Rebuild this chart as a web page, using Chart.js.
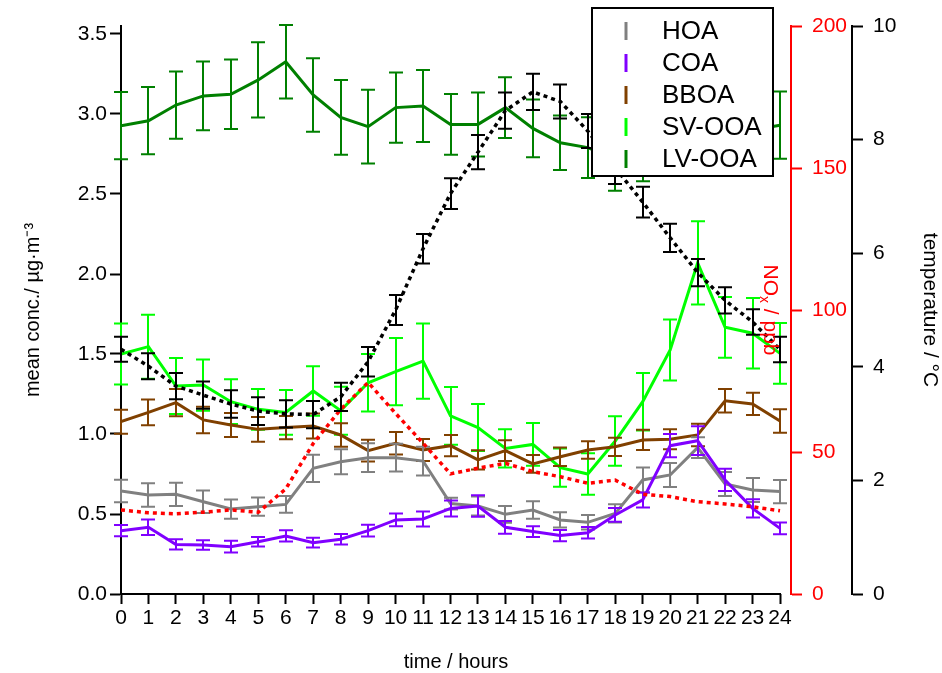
<!DOCTYPE html>
<html>
<head>
<meta charset="utf-8">
<title>Diurnal profiles</title>
<script src="https://cdn.jsdelivr.net/npm/chart.js@4.4.1/dist/chart.umd.min.js"></script>
<style>
  body { margin: 0; background: #fff; }
  #wrap { width: 942px; height: 673px; }
</style>
</head>
<body>
<div id="wrap"><canvas id="myChart" width="942" height="673"></canvas></div>
<script>
// hour of day
const HOURS = [0, 1, 2, 3, 4, 5, 6, 7, 8, 9, 10, 11, 12, 13, 14, 15, 16, 17, 18, 19, 20, 21, 22, 23, 24];

// PMF factors, mean conc. in ug/m3 and error
const HOA = [0.644, 0.619, 0.623, 0.577, 0.531, 0.546, 0.56, 0.785, 0.827, 0.852, 0.852, 0.831, 0.565, 0.55, 0.498, 0.525, 0.463, 0.448, 0.504, 0.713, 0.744, 0.915, 0.688, 0.65, 0.64];
const HOA_ERR = [0.07, 0.073, 0.073, 0.07, 0.06, 0.057, 0.052, 0.085, 0.078, 0.09, 0.087, 0.09, 0.037, 0.06, 0.052, 0.054, 0.048, 0.045, 0.057, 0.078, 0.075, 0.065, 0.075, 0.075, 0.073];

const COA = [0.396, 0.417, 0.31, 0.306, 0.296, 0.327, 0.363, 0.321, 0.342, 0.396, 0.463, 0.469, 0.535, 0.55, 0.417, 0.39, 0.365, 0.383, 0.494, 0.588, 0.927, 0.958, 0.713, 0.535, 0.41];
const COA_ERR = [0.035, 0.048, 0.032, 0.03, 0.037, 0.03, 0.035, 0.03, 0.033, 0.037, 0.04, 0.047, 0.05, 0.067, 0.04, 0.033, 0.035, 0.036, 0.043, 0.047, 0.073, 0.09, 0.07, 0.057, 0.037];

const BBOA = [1.077, 1.135, 1.196, 1.088, 1.056, 1.029, 1.04, 1.05, 0.994, 0.896, 0.942, 0.9, 0.927, 0.838, 0.896, 0.813, 0.858, 0.9, 0.92, 0.963, 0.967, 0.994, 1.208, 1.188, 1.081];
const BBOA_ERR = [0.075, 0.08, 0.085, 0.083, 0.075, 0.078, 0.073, 0.078, 0.073, 0.068, 0.07, 0.068, 0.066, 0.06, 0.065, 0.055, 0.058, 0.055, 0.057, 0.063, 0.063, 0.07, 0.073, 0.07, 0.073];

const SV_OOA = [1.5, 1.546, 1.3, 1.306, 1.202, 1.154, 1.135, 1.269, 1.146, 1.32, 1.39, 1.456, 1.113, 1.04, 0.91, 0.935, 0.79, 0.75, 0.956, 1.202, 1.525, 2.07, 1.667, 1.63, 1.504];
const SV_OOA_ERR = [0.19, 0.2, 0.175, 0.16, 0.14, 0.127, 0.14, 0.155, 0.15, 0.18, 0.21, 0.235, 0.18, 0.147, 0.12, 0.133, 0.12, 0.13, 0.155, 0.18, 0.19, 0.26, 0.19, 0.22, 0.19];

const LV_OOA = [2.927, 2.958, 3.056, 3.113, 3.123, 3.213, 3.327, 3.119, 2.979, 2.921, 3.04, 3.05, 2.935, 2.935, 3.04, 2.91, 2.82, 2.79, 2.72, 2.78, 2.85, 2.9, 2.92, 2.9, 2.93];
const LV_OOA_ERR = [0.21, 0.21, 0.21, 0.215, 0.217, 0.235, 0.23, 0.23, 0.233, 0.23, 0.22, 0.225, 0.19, 0.2, 0.19, 0.18, 0.17, 0.19, 0.2, 0.2, 0.2, 0.2, 0.2, 0.21, 0.21];

// NOx in ppb
const NOX = [29.6, 28.6, 28.2, 28.8, 29.6, 28.8, 37, 53, 65, 74.5, 63.6, 53.1, 42.3, 44.3, 46, 43.1, 41.3, 39, 40.1, 35.1, 34.3, 32.5, 31.7, 30.7, 29.3];

// temperature in degC
const TEMP = [4.31, 4.01, 3.66, 3.5, 3.345, 3.22, 3.17, 3.16, 3.47, 4.09, 5.0, 6.08, 7.05, 7.78, 8.51, 8.84, 8.67, 8.15, 7.5, 6.9, 6.27, 5.66, 5.17, 4.79, 4.305];
const TEMP_ERR = [0.22, 0.23, 0.23, 0.24, 0.24, 0.245, 0.24, 0.24, 0.25, 0.26, 0.265, 0.26, 0.27, 0.3, 0.32, 0.32, 0.3, 0.3, 0.28, 0.27, 0.25, 0.24, 0.23, 0.225, 0.225];

const FACTOR_NAMES = ['HOA', 'COA', 'BBOA', 'SV-OOA', 'LV-OOA'];
const FACTOR_COLORS = ['#808080', '#8000ff', '#804000', '#00ff00', '#008000'];

const FONT = 'Liberation Sans, Arial, sans-serif';

function pts(values) {
  return values.map((v, i) => ({ x: HOURS[i], y: v }));
}

// vertical error bars with caps, drawn under each line
const errorBars = {
  id: 'errorBars',
  beforeDatasetDraw(chart, args) {
    const ds = chart.data.datasets[args.index];
    if (!ds.errors) return;
    const xs = chart.scales.x;
    const ys = chart.scales[ds.yAxisID];
    const ctx = chart.ctx;
    ctx.save();
    ctx.strokeStyle = ds.barColor || ds.borderColor;
    ctx.lineWidth = 2;
    ctx.setLineDash([]);
    ds.data.forEach((p, i) => {
      const px = Math.round(xs.getPixelForValue(p.x));
      const top = ys.getPixelForValue(p.y + ds.errors[i]);
      const bot = ys.getPixelForValue(p.y - ds.errors[i]);
      ctx.beginPath();
      ctx.moveTo(px, top); ctx.lineTo(px, bot);
      ctx.moveTo(px - 7, top); ctx.lineTo(px + 7, top);
      ctx.moveTo(px - 7, bot); ctx.lineTo(px + 7, bot);
      ctx.stroke();
    });
    ctx.restore();
  }
};

// bottom axis line (ends at 24 h), NOx title and the factor legend
const extras = {
  id: 'extras',
  beforeDatasetsDraw(chart) {
    const ctx = chart.ctx;
    const xs = chart.scales.x;
    const y0 = chart.chartArea.bottom;
    ctx.save();
    ctx.strokeStyle = '#000';
    ctx.lineWidth = 2;
    ctx.beginPath();
    ctx.moveTo(xs.getPixelForValue(0) - 1, y0);
    ctx.lineTo(xs.getPixelForValue(24) + 1, y0);
    ctx.stroke();
    ctx.restore();
  },
  afterDraw(chart) {
    const ctx = chart.ctx;
    const area = chart.chartArea;
    ctx.save();

    // NOx axis title, rotated, just left of the red axis
    const nox = chart.scales.nox;
    ctx.translate(area.right - 21, nox.getPixelForValue(100));
    ctx.rotate(Math.PI / 2);
    ctx.fillStyle = '#ff0000';
    ctx.textBaseline = 'middle';
    ctx.font = '21px ' + FONT;
    const w1 = ctx.measureText('NO').width;
    ctx.font = '14px ' + FONT;
    const w2 = ctx.measureText('x').width;
    ctx.font = '21px ' + FONT;
    const w3 = ctx.measureText(' / ppb').width;
    let x = -(w1 + w2 + w3) / 2;
    ctx.fillText('NO', x, 0);
    x += w1;
    ctx.font = '14px ' + FONT;
    ctx.fillText('x', x, 6);
    x += w2;
    ctx.font = '21px ' + FONT;
    ctx.fillText(' / ppb', x, 0);
    ctx.restore();

    // legend box
    ctx.save();
    const bx = area.right - 199, by = 8, bw = 181, bh = 168;
    ctx.fillStyle = '#fff';
    ctx.fillRect(bx, by, bw, bh);
    ctx.strokeStyle = '#000';
    ctx.lineWidth = 2;
    ctx.strokeRect(bx, by, bw, bh);
    ctx.font = '26px ' + FONT;
    ctx.textBaseline = 'middle';
    ctx.textAlign = 'left';
    FACTOR_NAMES.forEach((name, i) => {
      const cy = by + 23 + i * 32;
      ctx.strokeStyle = FACTOR_COLORS[i];
      ctx.lineWidth = 3;
      ctx.beginPath();
      ctx.moveTo(bx + 34, cy - 9);
      ctx.lineTo(bx + 34, cy + 9);
      ctx.stroke();
      ctx.fillStyle = '#000';
      ctx.fillText(name, bx + 70, cy + 1);
    });
    ctx.restore();
  }
};

function lineSet(label, values, errors, color, order) {
  return {
    label: label,
    data: pts(values),
    errors: errors,
    yAxisID: 'y',
    borderColor: color,
    borderWidth: 3,
    pointRadius: 0,
    fill: false,
    tension: 0,
    order: order
  };
}

const ctx = document.getElementById('myChart').getContext('2d');
new Chart(ctx, {
  type: 'line',
  data: {
    datasets: [
      lineSet('LV-OOA', LV_OOA, LV_OOA_ERR, FACTOR_COLORS[4], 7),
      lineSet('SV-OOA', SV_OOA, SV_OOA_ERR, FACTOR_COLORS[3], 6),
      lineSet('BBOA', BBOA, BBOA_ERR, FACTOR_COLORS[2], 5),
      lineSet('HOA', HOA, HOA_ERR, FACTOR_COLORS[0], 4),
      lineSet('COA', COA, COA_ERR, FACTOR_COLORS[1], 3),
      {
        label: 'NOx',
        data: pts(NOX),
        yAxisID: 'nox',
        borderColor: '#ff0000',
        borderWidth: 3.5,
        borderDash: [4, 4],
        pointRadius: 0,
        fill: false,
        order: 2
      },
      {
        label: 'temperature',
        data: pts(TEMP),
        errors: TEMP_ERR,
        yAxisID: 'temp',
        borderColor: '#000000',
        borderWidth: 3.5,
        borderDash: [4, 4],
        pointRadius: 0,
        fill: false,
        order: 1
      }
    ]
  },
  options: {
    responsive: false,
    animation: false,
    devicePixelRatio: 1,
    layout: { padding: { top: 26, left: 0, right: 0, bottom: 0 } },
    plugins: {
      legend: { display: false },
      tooltip: { enabled: false }
    },
    scales: {
      x: {
        type: 'linear',
        min: 0,
        max: 24.4,
        afterFit(scale) { scale.height = 79; },
        border: { display: false },
        grid: { drawOnChartArea: false, drawTicks: true, tickLength: 10, tickWidth: 2, tickColor: '#000' },
        ticks: {
          stepSize: 1,
          includeBounds: false,
          autoSkip: false,
          maxRotation: 0,
          padding: 2,
          color: '#000',
          font: { family: FONT, size: 21 }
        },
        title: {
          display: true,
          text: 'time / hours',
          color: '#000',
          padding: 0,
          font: { family: FONT, size: 20, lineHeight: 1.1 }
        }
      },
      y: {
        position: 'left',
        min: 0,
        max: 3.55,
        afterFit(scale) { scale.width = 121; },
        border: { color: '#000', width: 2 },
        grid: { drawOnChartArea: false, tickLength: 11, tickWidth: 2, tickColor: '#000' },
        ticks: {
          stepSize: 0.5,
          includeBounds: false,
          padding: 3,
          color: '#000',
          font: { family: FONT, size: 21 },
          callback: (v) => v.toFixed(1)
        },
        title: {
          display: true,
          text: 'mean conc./ µg·m⁻³',
          color: '#000',
          padding: { top: 21, bottom: 0 },
          font: { family: FONT, size: 20 }
        }
      },
      nox: {
        position: 'right',
        min: 0,
        max: 200,
        afterFit(scale) { scale.width = 61; },
        border: { color: '#ff0000', width: 2 },
        grid: { drawOnChartArea: false, tickLength: 11, tickWidth: 2, tickColor: '#ff0000' },
        ticks: {
          stepSize: 50,
          padding: 10,
          color: '#ff0000',
          font: { family: FONT, size: 21 }
        }
      },
      temp: {
        position: 'right',
        min: 0,
        max: 10,
        afterFit(scale) { scale.width = 90; },
        border: { color: '#000', width: 2 },
        grid: { drawOnChartArea: false, tickLength: 11, tickWidth: 2, tickColor: '#000' },
        ticks: {
          stepSize: 2,
          padding: 10,
          color: '#000',
          font: { family: FONT, size: 21 }
        },
        title: {
          display: true,
          text: 'temperature / °C',
          color: '#000',
          padding: 0,
          font: { family: FONT, size: 21 }
        }
      }
    }
  },
  plugins: [errorBars, extras]
});
</script>
</body>
</html>
